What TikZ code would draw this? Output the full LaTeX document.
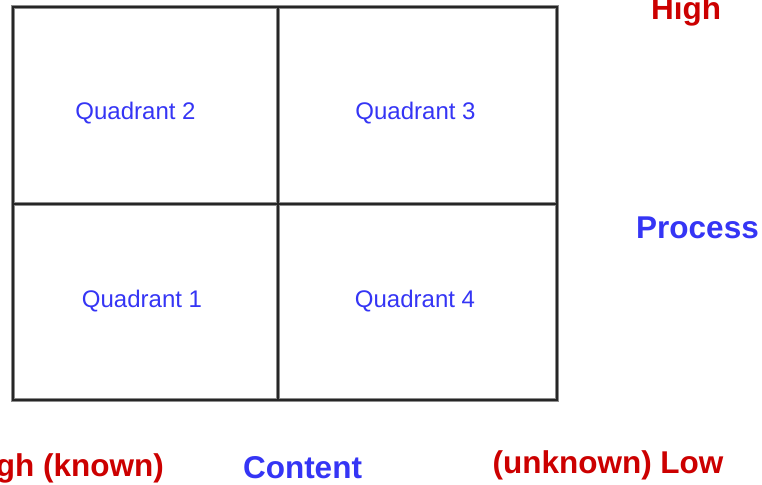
\documentclass[tikz,border=0pt]{standalone}
\usepackage{fontspec}
\setmainfont{Liberation Sans}
\begin{document}
\begin{tikzpicture}[x=1pt,y=-1pt,
  gridline/.style={line width=1.8pt,draw=black!85},
  gridhalo/.style={line width=3.6pt,draw=black!45},
  quadlabel/.style={anchor=base,inner sep=0pt,text=qblue,font=\fontsize{24}{28}\selectfont},
  axisname/.style={anchor=base,inner sep=0pt,text=qblue,font=\fontsize{31.5}{36}\selectfont\bfseries},
  axisend/.style={anchor=base,inner sep=0pt,text=qred,font=\fontsize{31.5}{36}\selectfont\bfseries}]
\definecolor{qblue}{HTML}{3535F5}
\definecolor{qred}{HTML}{CC0000}
\useasboundingbox (0,0) rectangle (762,484);
\clip (0,0) rectangle (762,484);
\fill[white] (0,0) rectangle (762,484);
% corner points of the 2x2 grid
\coordinate (tl) at (13,7);
\coordinate (tr) at (557,7);
\coordinate (bl) at (13,400);
\coordinate (br) at (557,400);
\coordinate (tm) at (278,7);
\coordinate (bm) at (278,400);
\coordinate (lm) at (13,204);
\coordinate (rm) at (557,204);
% grid: soft halo under a dark stroke
\foreach \s in {gridhalo,gridline}{
  \draw[\s] (tl) rectangle (br);
  \draw[\s] (tm) -- (bm);
  \draw[\s] (lm) -- (rm);
}
% quadrant names
\node[quadlabel] (q2) at (135.5,119) {Quadrant 2};
\node[quadlabel] (q3) at (415.5,119) {Quadrant 3};
\node[quadlabel] (q1) at (142,307) {Quadrant 1};
\node[quadlabel] (q4) at (415,307) {Quadrant 4};
% axis captions
\node[axisend] (high) at (686,20) {High};
\node[axisname] (process) at (697.5,238) {Process};
\node[axisend,anchor=base east] (known) at (164,476) {High (known)};
\node[axisname] (content) at (302.5,478) {Content};
\node[axisend] (unknown) at (608,473) {(unknown) Low};
\end{tikzpicture}
\end{document}
